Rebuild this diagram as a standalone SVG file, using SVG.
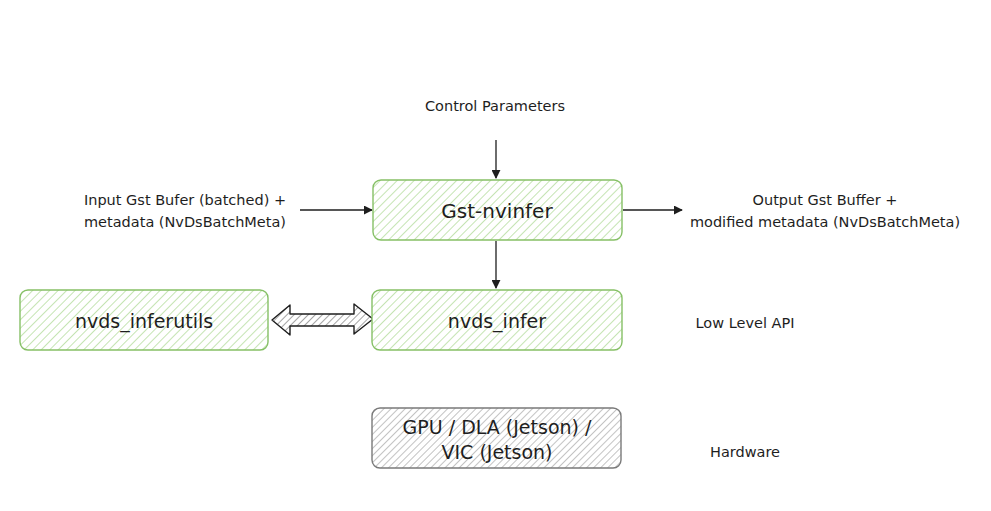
<svg xmlns="http://www.w3.org/2000/svg" width="991" height="511" viewBox="0 0 991 511">
<style>
text{font-family:"DejaVu Sans","Liberation Sans",sans-serif;fill:#1e1e1e;text-anchor:middle;dominant-baseline:central}
.lbl{font-size:14.5px}
.big{font-size:20px}
.mid{font-size:19px}
.g{fill:url(#hg);stroke:#86c066;stroke-width:1.4}
.k{fill:url(#hk);stroke:#7a7a7a;stroke-width:1.4}
.c{fill:none;stroke:#1e1e1e;stroke-width:1.3}
</style>
<defs>
<pattern id="hg" width="6" height="6" patternUnits="userSpaceOnUse" patternTransform="rotate(45)">
<rect width="6" height="6" fill="#fff"/>
<line x1="0" y1="0" x2="0" y2="6" stroke="#a6d68a" stroke-width="1.3"/>
</pattern>
<pattern id="hk" width="5" height="5" patternUnits="userSpaceOnUse" patternTransform="rotate(45)">
<rect width="5" height="5" fill="#fff"/>
<line x1="0" y1="0" x2="0" y2="5" stroke="#9a9a9a" stroke-width="1.2"/>
</pattern>
<pattern id="ha" width="5" height="5" patternUnits="userSpaceOnUse" patternTransform="rotate(45)">
<rect width="5" height="5" fill="#fff"/>
<line x1="0" y1="0" x2="0" y2="5" stroke="#666" stroke-width="1.2"/>
</pattern>
<marker id="ar" viewBox="0 0 10 10" refX="9" refY="5" markerWidth="9" markerHeight="9" markerUnits="userSpaceOnUse" orient="auto">
<path d="M0,0 L10,5 L0,10 Z" fill="#1e1e1e"/>
</marker>
</defs>
<g id="connectors">
<line class="c" x1="496" y1="140" x2="496" y2="178" marker-end="url(#ar)"/>
<line class="c" x1="300" y1="210" x2="372" y2="210" marker-end="url(#ar)"/>
<line class="c" x1="623" y1="210" x2="682" y2="210" marker-end="url(#ar)"/>
<line class="c" x1="496" y1="241" x2="496" y2="288" marker-end="url(#ar)"/>
<polygon id="double-arrow" points="272,320 290,305 290,314 354,314 354,304 373,319 354,334 354,326 290,326 290,335" fill="url(#ha)" stroke="#1e1e1e" stroke-width="1.4" stroke-linejoin="round"/>
</g>
<g id="control-params"><text class="lbl" x="495" y="106">Control Parameters</text></g>
<g id="input"><text class="lbl" x="185" y="200">Input Gst Bufer (batched) +</text><text class="lbl" x="185" y="222">metadata (NvDsBatchMeta)</text></g>
<g id="output"><text class="lbl" x="825" y="200">Output Gst Buffer +</text><text class="lbl" x="825" y="222">modified metadata (NvDsBatchMeta)</text></g>
<g id="gst-nvinfer"><rect class="g" x="373" y="180" width="249" height="60" rx="8"/><text class="big" x="497" y="211">Gst-nvinfer</text></g>
<g id="nvds-infer"><rect class="g" x="372" y="290" width="250" height="60" rx="8"/><text class="mid" x="497" y="321">nvds_infer</text></g>
<g id="nvds-inferutils"><rect class="g" x="20" y="290" width="248" height="60" rx="8"/><text class="mid" x="144" y="321">nvds_inferutils</text></g>
<g id="hardware-box"><rect class="k" x="372" y="408" width="249" height="60" rx="8"/><text class="mid" x="497" y="427">GPU / DLA (Jetson) /</text><text class="mid" x="497" y="452">VIC (Jetson)</text></g>
<g id="low-level"><text class="lbl" x="745" y="323">Low Level API</text></g>
<g id="hardware"><text class="lbl" x="745" y="452">Hardware</text></g>
</svg>
